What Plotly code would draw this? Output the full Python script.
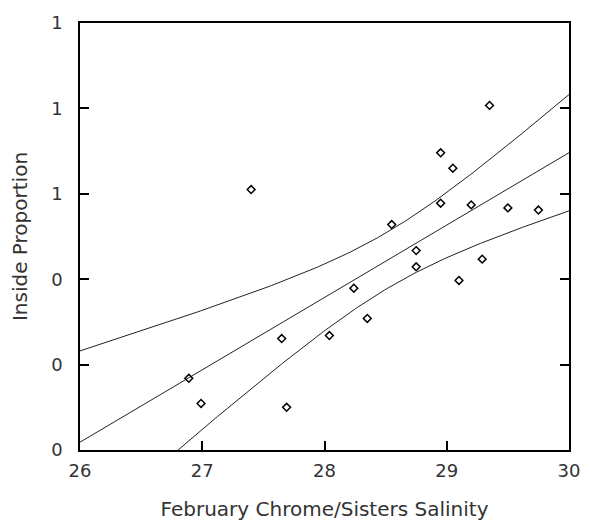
import numpy as np
import plotly.graph_objects as go

# Data
salinity = [26.89, 26.99, 27.40, 27.65, 27.69, 28.04, 28.24, 28.35, 28.55, 28.75,
            28.75, 28.95, 28.95, 29.05, 29.10, 29.20, 29.29, 29.35, 29.50, 29.75]
proportion = [0.168, 0.109, 0.610, 0.261, 0.100, 0.268, 0.379, 0.308, 0.528, 0.467,
              0.429, 0.696, 0.578, 0.660, 0.397, 0.574, 0.447, 0.807, 0.567, 0.562]

x_tick_vals = [26, 27, 28, 29, 30]
y_tick_vals = [0, 0.2, 0.4, 0.6, 0.8, 1.0]
y_tick_text = ["0", "0", "0", "1", "1", "1"]

# Linear regression with 95% confidence band for the mean
x = np.array(salinity)
y = np.array(proportion)
n = len(x)
slope, intercept = np.polyfit(x, y, 1)
resid = y - (intercept + slope * x)
s = np.sqrt(np.sum(resid ** 2) / (n - 2))
sxx = np.sum((x - x.mean()) ** 2)
t_crit = 2.1009  # t(0.975, df=18)
xf = np.linspace(26, 30, 200)
yf = intercept + slope * xf
half = t_crit * s * np.sqrt(1 / n + (xf - x.mean()) ** 2 / sxx)

line_style = dict(color="#222222", width=1)
fig = go.Figure()
fig.add_trace(go.Scatter(x=xf, y=yf + half, mode="lines", line=line_style, hoverinfo="skip"))
fig.add_trace(go.Scatter(x=xf, y=yf, mode="lines", line=line_style, hoverinfo="skip"))
fig.add_trace(go.Scatter(x=xf, y=yf - half, mode="lines", line=line_style, hoverinfo="skip"))
fig.add_trace(go.Scatter(
    x=salinity, y=proportion, mode="markers",
    marker=dict(symbol="diamond-open", size=6, color="black", line=dict(width=1.5, color="black")),
))

font = dict(family="DejaVu Sans, Verdana, sans-serif", size=17, color="#333333")
tick_font = dict(family="DejaVu Sans, Verdana, sans-serif", size=18, color="#333333")
fig.update_layout(
    width=592, height=529,
    margin=dict(l=80, r=13, t=14, b=74),
    paper_bgcolor="white", plot_bgcolor="white",
    showlegend=False,
    font=font,
    xaxis=dict(
        range=[26, 30], tickvals=x_tick_vals, ticks="inside", ticklen=9, tickwidth=1.5,
        tickcolor="black", showline=True, linecolor="black", linewidth=1.5, mirror=True,
        showgrid=False, zeroline=False, ticklabelstandoff=4, tickfont=tick_font,
        title=dict(text="February Chrome/Sisters Salinity", standoff=22),
    ),
    yaxis=dict(
        range=[0, 1], tickvals=y_tick_vals, ticktext=y_tick_text, ticks="inside", ticklen=9,
        tickwidth=1.5, tickcolor="black", showline=True, linecolor="black", linewidth=1.5,
        mirror="ticks", showgrid=False, zeroline=False, ticklabelstandoff=12, tickfont=tick_font,
        title=dict(text="Inside Proportion", standoff=18),
    ),
)
fig.write_html("out.html")
